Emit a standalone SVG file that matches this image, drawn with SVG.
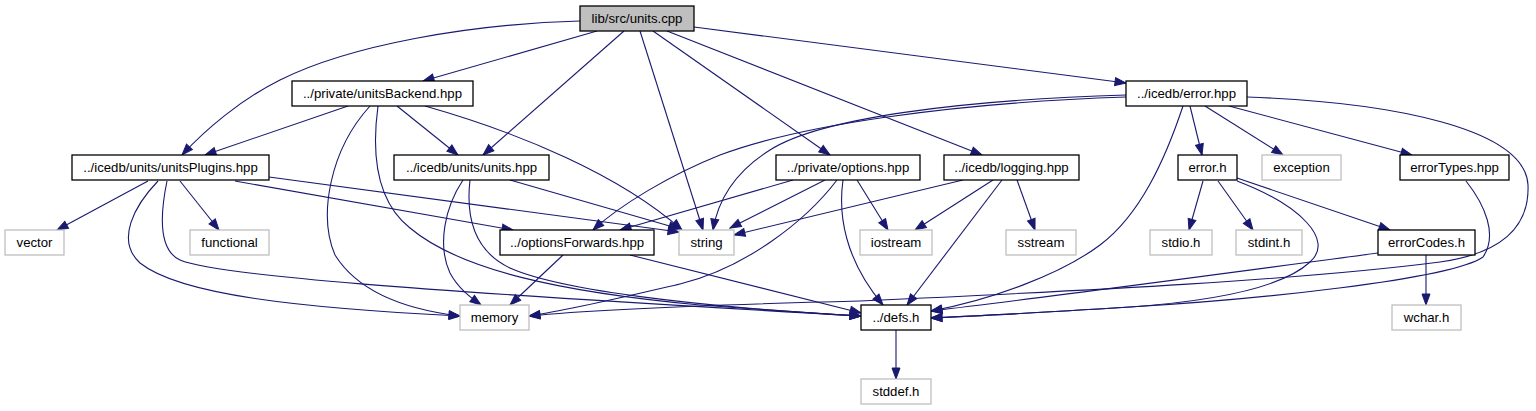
<svg xmlns="http://www.w3.org/2000/svg" width="1536" height="411" viewBox="0 0 1536 411">
<style>
.n rect{fill:#fff;stroke:#000;stroke-width:1.3}
.g rect{fill:#fff;stroke:#bfbfbf;stroke-width:1.3}
.root rect{fill:#bfbfbf;stroke:#000;stroke-width:1.3}
text{font-family:"Liberation Sans",Arial,Helvetica,sans-serif;font-size:13.2px;fill:#000;text-anchor:middle}
#edges path{fill:none;stroke:#191970;stroke-width:1.1;marker-end:url(#ah)}
</style>
<defs>
<marker id="ah" markerWidth="13" markerHeight="10" refX="12" refY="5" orient="auto" markerUnits="userSpaceOnUse">
<path d="M1,1 L12,5 L1,9 z" fill="#191970" stroke="#191970" stroke-width="1"/>
</marker>
</defs>
<rect width="1536" height="411" fill="#fff"/>
<g id="edges">
<path d="M580,21 C470,24 350,45 280,80 C240,100 205,130 182,155"/>
<path d="M597,31 L423,81"/>
<path d="M624,31 L483,155"/>
<path d="M640,31 L703,230"/>
<path d="M653,31 L830,155"/>
<path d="M667,31 L982,155"/>
<path d="M694,27 L1126,83"/>
<path d="M348,106 L205,155"/>
<path d="M370,106 C330,150 318,215 335,255 C360,295 410,310 460,316"/>
<path d="M378,106 C372,150 375,200 410,228 C460,270 560,292 700,305 C780,311 830,314 861,316"/>
<path d="M397,106 L458,155"/>
<path d="M425,106 C520,133 620,175 682,230"/>
<path d="M148,181 L57,230"/>
<path d="M180,181 L219,230"/>
<path d="M158,181 C135,205 115,240 140,263 C180,295 300,308 460,316"/>
<path d="M167,181 C160,215 158,250 180,260 C215,275 400,290 861,316"/>
<path d="M235,181 L513,230"/>
<path d="M269,177 L679,232"/>
<path d="M463,180 C445,207 437,245 450,273 C458,288 470,297 481,305"/>
<path d="M470,180 C466,215 472,250 510,268 C570,295 750,310 861,316"/>
<path d="M510,180 L680,229"/>
<path d="M563,255 L510,305"/>
<path d="M630,255 L861,313"/>
<path d="M793,180 L620,230"/>
<path d="M825,180 L730,228"/>
<path d="M837,180 C805,222 745,268 680,284 C620,298 570,310 529,316"/>
<path d="M857,180 L888,230"/>
<path d="M843,180 C838,215 845,260 883,305"/>
<path d="M963,180 L734,235"/>
<path d="M993,180 L915,230"/>
<path d="M1002,180 L907,305"/>
<path d="M1017,180 L1035,230"/>
<path d="M1126,95 C960,100 820,118 770,150 C735,172 718,200 713,230"/>
<path d="M1126,97 C950,103 800,125 720,155 C670,175 620,205 593,230"/>
<path d="M1183,106 C1165,160 1140,215 1100,245 C1060,275 990,300 931,311"/>
<path d="M1190,106 L1202,155"/>
<path d="M1205,106 L1283,155"/>
<path d="M1229,106 L1412,155"/>
<path d="M1247,97 C1390,102 1525,128 1528,185 C1530,235 1490,255 1440,262 C1300,280 1100,290 860,301 C700,305 600,309 529,316"/>
<path d="M1203,181 L1189,230"/>
<path d="M1218,181 L1253,230"/>
<path d="M1237,178 L1390,230"/>
<path d="M1237,181 C1300,205 1335,240 1310,262 C1280,290 1200,302 1130,307 C1050,312 980,316 931,318"/>
<path d="M1378,253 C1250,270 1050,297 931,311"/>
<path d="M1426,255 L1426,305"/>
<path d="M1466,181 C1485,205 1498,235 1483,257 C1450,280 1250,300 1130,307 C1050,312 980,316 931,318"/>
<path d="M896,330 L896,379"/>
</g>
<g id="n_units_cpp" class="root"><rect x="580" y="6" width="114" height="25"/><text x="637" y="23">lib/src/units.cpp</text></g>
<g id="n_unitsBackend" class="n"><rect x="292" y="81" width="181" height="25"/><text x="382.5" y="98">../private/unitsBackend.hpp</text></g>
<g id="n_error_hpp" class="n"><rect x="1126" y="81" width="121" height="25"/><text x="1186.5" y="98">../icedb/error.hpp</text></g>
<g id="n_unitsPlugins" class="n"><rect x="72" y="155" width="197" height="25"/><text x="170.5" y="172">../icedb/units/unitsPlugins.hpp</text></g>
<g id="n_units_hpp" class="n"><rect x="394" y="155" width="155" height="25"/><text x="471.5" y="172">../icedb/units/units.hpp</text></g>
<g id="n_options" class="n"><rect x="776" y="155" width="144" height="25"/><text x="848" y="172">../private/options.hpp</text></g>
<g id="n_logging" class="n"><rect x="944" y="155" width="135" height="25"/><text x="1011.5" y="172">../icedb/logging.hpp</text></g>
<g id="n_error_h" class="n"><rect x="1178" y="155" width="59" height="25"/><text x="1207.5" y="172">error.h</text></g>
<g id="n_exception" class="g"><rect x="1262" y="155" width="79" height="25"/><text x="1301.5" y="172">exception</text></g>
<g id="n_errorTypes" class="n"><rect x="1400" y="155" width="109" height="25"/><text x="1454.5" y="172">errorTypes.hpp</text></g>
<g id="n_vector" class="g"><rect x="5" y="230" width="59" height="25"/><text x="34.5" y="247">vector</text></g>
<g id="n_functional" class="g"><rect x="190" y="230" width="79" height="25"/><text x="229.5" y="247">functional</text></g>
<g id="n_optionsForwards" class="n"><rect x="500" y="230" width="154" height="25"/><text x="577" y="247">../optionsForwards.hpp</text></g>
<g id="n_string" class="g"><rect x="679" y="230" width="55" height="25"/><text x="706.5" y="247">string</text></g>
<g id="n_iostream" class="g"><rect x="860" y="230" width="72" height="25"/><text x="896" y="247">iostream</text></g>
<g id="n_sstream" class="g"><rect x="1006" y="230" width="70" height="25"/><text x="1041" y="247">sstream</text></g>
<g id="n_stdio" class="g"><rect x="1150" y="230" width="62" height="25"/><text x="1181" y="247">stdio.h</text></g>
<g id="n_stdint" class="g"><rect x="1236" y="230" width="66" height="25"/><text x="1269" y="247">stdint.h</text></g>
<g id="n_errorCodes" class="n"><rect x="1378" y="230" width="97" height="25"/><text x="1426.5" y="247">errorCodes.h</text></g>
<g id="n_memory" class="g"><rect x="460" y="305" width="69" height="25"/><text x="494.5" y="322">memory</text></g>
<g id="n_defs" class="n"><rect x="861" y="305" width="70" height="25"/><text x="896" y="322">../defs.h</text></g>
<g id="n_wchar" class="g"><rect x="1392" y="305" width="69" height="25"/><text x="1426.5" y="322">wchar.h</text></g>
<g id="n_stddef" class="g"><rect x="861" y="379" width="70" height="25"/><text x="896" y="396">stddef.h</text></g>
</svg>
